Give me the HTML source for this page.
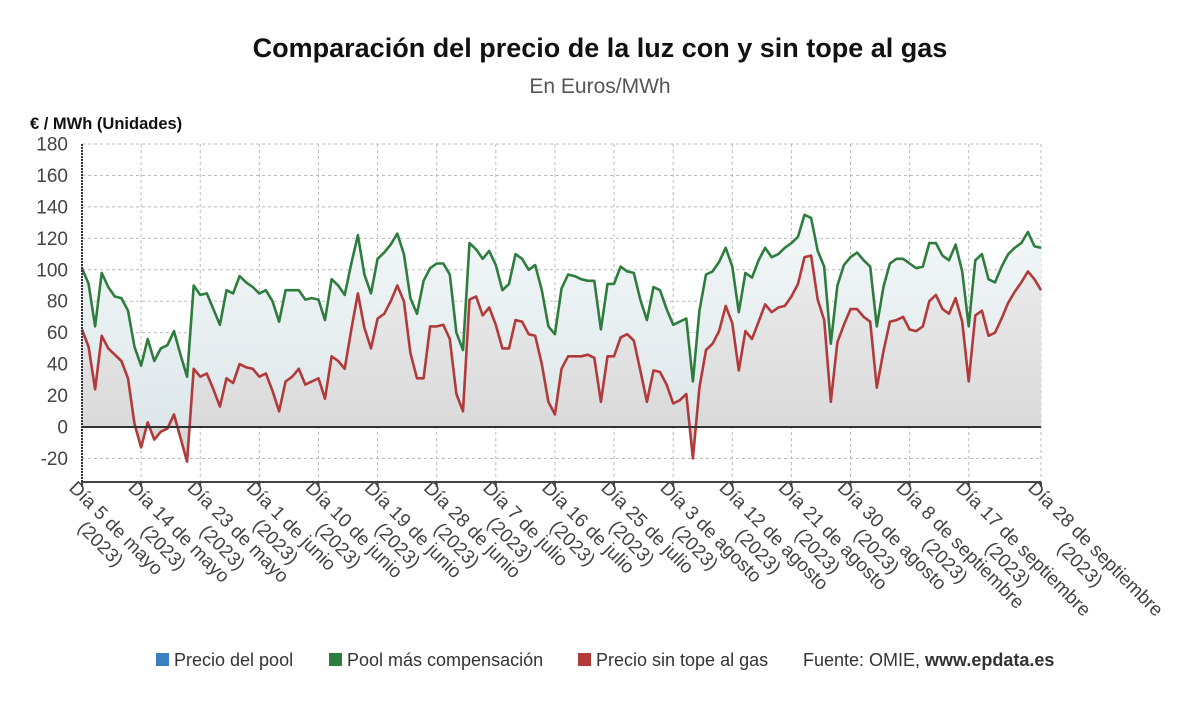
<!DOCTYPE html>
<html><head><meta charset="utf-8"><style>
body{margin:0;background:#fff;}
svg{display:block;font-family:"Liberation Sans",sans-serif;}
</style></head><body>
<svg id="chart" width="1200" height="705" viewBox="0 0 1200 705">
<defs>
<linearGradient id="gGreen" x1="0" y1="0" x2="0" y2="1"><stop offset="0" stop-color="#f4f8f9"/><stop offset="1" stop-color="#dde7ea"/></linearGradient>
<linearGradient id="gRed" x1="0" y1="0" x2="0" y2="1"><stop offset="0" stop-color="#ececec"/><stop offset="1" stop-color="#d6d6d6"/></linearGradient>
</defs>
<text x="600" y="57" text-anchor="middle" font-size="27" font-weight="bold" fill="#111">Comparación del precio de la luz con y sin tope al gas</text>
<text x="600" y="93" text-anchor="middle" font-size="21" fill="#555">En Euros/MWh</text>
<text x="30" y="129" font-size="16.5" font-weight="bold" fill="#111">€ / MWh (Unidades)</text>
<g id="grid"></g><g id="areas"></g><g id="lines"></g><g id="axes"></g><g id="xlabels"></g>
<g>
<g><rect x="156" y="653" width="13" height="13" fill="#3a7fc1"/><text x="174" y="666" font-size="18" fill="#333">Precio del pool</text></g>
<g><rect x="329" y="653" width="13" height="13" fill="#2e7d3e"/><text x="347" y="666" font-size="18" fill="#333">Pool más compensación</text></g>
<g><rect x="578" y="653" width="13" height="13" fill="#b23a3a"/><text x="596" y="666" font-size="18" fill="#333">Precio sin tope al gas</text></g>
<text x="803" y="666" font-size="18" fill="#333">Fuente: OMIE, <tspan font-weight="bold">www.epdata.es</tspan></text>
</g>
</svg>
<script>
const startDay = 5;
const tickLabels1 = ["Día 5 de mayo","Día 14 de mayo","Día 23 de mayo","Día 1 de junio","Día 10 de junio","Día 19 de junio","Día 28 de junio","Día 7 de julio","Día 16 de julio","Día 25 de julio","Día 3 de agosto","Día 12 de agosto","Día 21 de agosto","Día 30 de agosto","Día 8 de septiembre","Día 17 de septiembre","Día 28 de septiembre"];
const tickLabelIdx = [0,9,18,27,36,45,54,63,72,81,90,99,108,117,126,135,146];
const yTicks = [-20,0,20,40,60,80,100,120,140,160,180];
const greenValues = [101,91,64,98,89,83,82,74,51,39,56,42,50,52,61,46,32,90,84,85,75,65,87,85,96,92,89,85,87,80,67,87,87,87,81,82,81,68,94,90,84,104,122,97,85,107,111,116,123,110,82,72,93,101,104,104,97,60,49,117,113,107,112,103,87,91,110,107,100,103,87,64,59,88,97,96,94,93,93,62,91,91,102,99,98,81,68,89,87,75,65,67,69,29,74,97,99,105,114,102,73,98,95,106,114,108,110,114,117,121,135,133,112,102,53,90,103,108,111,106,102,64,89,104,107,107,104,101,102,117,117,109,106,116,99,64,106,110,94,92,102,110,114,117,124,115,114];
const redValues = [62,51,24,58,50,46,42,31,2,-13,3,-8,-3,-1,8,-7,-22,37,32,34,24,13,31,28,40,38,37,32,34,23,10,29,32,37,27,29,31,18,45,42,37,62,85,63,50,69,72,80,90,80,47,31,31,64,64,65,56,21,10,81,83,71,76,65,50,50,68,67,59,58,40,16,8,37,45,45,45,46,44,16,45,45,57,59,55,36,16,36,35,27,15,17,21,-20,25,49,53,61,77,66,36,61,56,67,78,73,76,77,83,91,108,109,81,68,16,54,65,75,75,70,67,25,48,67,68,70,62,61,64,80,84,75,72,82,67,29,71,74,58,60,69,79,86,92,99,94,87];

const NS="http://www.w3.org/2000/svg";
const X0=82,X1=1041,YTOP=144,YBOT=482;
const n=greenValues.length;
const xs=i=>X0+i*(X1-X0)/(n-1);
const ys=v=>427-(v)*(427-144)/180;
function mk(tag,attrs,parent){const e=document.createElementNS(NS,tag);for(const k in attrs)e.setAttribute(k,attrs[k]);parent.appendChild(e);return e;}
const grid=document.getElementById('grid');
yTicks.forEach(v=>{
  const l=mk('line',{x1:X0,x2:X1,y1:ys(v),y2:ys(v),stroke:'#bbb','stroke-dasharray':'3,3'},grid);
  
  
  const t=mk('text',{x:68,y:ys(v)+6.5,'text-anchor':'end','font-size':19,fill:'#444'},grid);
  t.textContent=v;
  
  
});
mk('line',{x1:X1,x2:X1,y1:YTOP,y2:YBOT,stroke:'#bbb','stroke-dasharray':'3,3'},grid);
tickLabelIdx.forEach(i=>{
  const l=mk('line',{x1:xs(i),x2:xs(i),y1:YTOP,y2:YBOT,stroke:'#bbb','stroke-dasharray':'3,3'},grid);
  
  
});
const areas=document.getElementById('areas');
function areaPath(vals){let d='M'+xs(0)+','+ys(0);vals.forEach((v,i)=>d+='L'+xs(i).toFixed(1)+','+ys(v).toFixed(1));return d+'L'+xs(n-1)+','+ys(0)+'Z';}
function linePath(vals){return vals.map((v,i)=>(i?'L':'M')+xs(i).toFixed(1)+','+ys(v).toFixed(1)).join('');}
const ga=mk('path',{d:areaPath(greenValues),fill:'url(#gGreen)'},areas);


const ra=mk('path',{d:areaPath(redValues),fill:'url(#gRed)'},areas);


const lines=document.getElementById('lines');
const gl=mk('path',{d:linePath(greenValues),fill:'none',stroke:'#2e7d3e','stroke-width':2.6,'stroke-linejoin':'round'},lines);


const rl=mk('path',{d:linePath(redValues),fill:'none',stroke:'#b23a3a','stroke-width':2.6,'stroke-linejoin':'round'},lines);


const axes=document.getElementById('axes');
const z=mk('line',{x1:X0,x2:X1,y1:ys(0),y2:ys(0),stroke:'#333','stroke-width':2},axes);


const xa=mk('line',{x1:X0,x2:X1,y1:YBOT,y2:YBOT,stroke:'#444','stroke-width':2},axes);


const ya=mk('line',{x1:X0,x2:X0,y1:YTOP,y2:YBOT,stroke:'#333','stroke-width':2,'stroke-dasharray':'2,1'},axes);


const xl=document.getElementById('xlabels');
tickLabelIdx.forEach((i,k)=>{
  mk('line',{x1:xs(i),x2:xs(i),y1:YBOT,y2:YBOT+5,stroke:'#444','stroke-width':2},axes);
  const g=mk('g',{transform:`translate(${xs(i)-14},${YBOT+7}) rotate(45)`},xl);
  
  
  const t1=mk('text',{x:0,y:0,'font-size':19,fill:'#444'},g);
  t1.textContent=tickLabels1[k];
  const w=t1.getComputedTextLength();
  const t2=mk('text',{x:w/2,y:22,'text-anchor':'middle','font-size':19,fill:'#444'},g);
  t2.textContent='(2023)';
});
</script>
</body></html>
